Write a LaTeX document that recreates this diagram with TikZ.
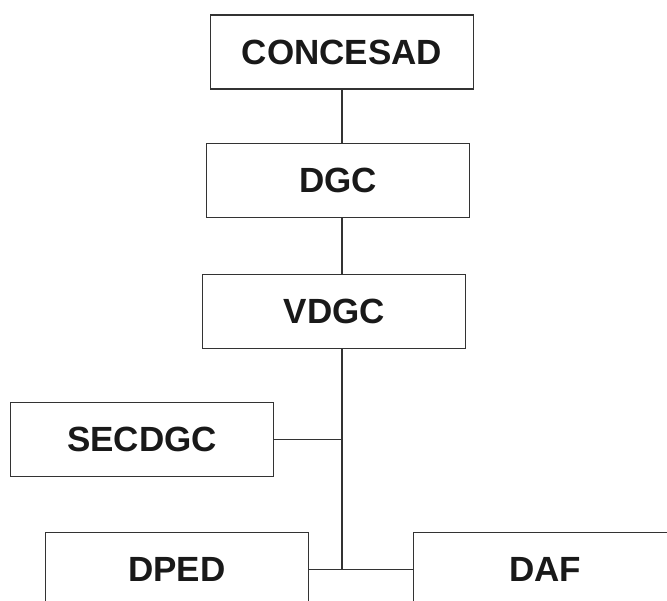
\documentclass[tikz,border=0pt]{standalone}
\usepackage{fontspec}
\setmainfont{Liberation Sans}
\usetikzlibrary{positioning}

\begin{document}
\begin{tikzpicture}[
        x=1pt, y=-1pt,
        unit/.style={rectangle, draw=black!80, line width=1.2pt, fill=white, minimum width=263pt, minimum height=74pt, font=\fontsize{35}{40}\selectfont\bfseries, text=black!90},
        link/.style={draw=black!80, line width=1.2pt}
    ]
    \useasboundingbox (0,0) rectangle (667,601);

    % Units
    \node (concesad) [unit] at (342,52) {CONCESAD};
    \node (dgc) [unit] at (338.3,180.3) {DGC};
    \node (vdgc) [unit] at (334.3,311.3) {VDGC};
    \node (secdgc) [unit] at (142,439.5) {SECDGC};
    \node (dped) [unit] at (176.8,569.7) {DPED};
    \node (daf) [unit] at (545,569.7) {DAF};

    % Trunk
    \coordinate (jsec) at (342,439.5);
    \coordinate (jbot) at (342,569.7);

    % Links
    \draw [link] (concesad.south -| jsec) -- (dgc.north -| jsec);
    \draw [link] (dgc.south -| jsec) -- (vdgc.north -| jsec);
    \draw [link] (vdgc.south -| jsec) -- (jbot);
    \draw [link] (secdgc.east) -- (jsec);
    \draw [link] (dped.east) -- (daf.west);

\end{tikzpicture}
\end{document}
